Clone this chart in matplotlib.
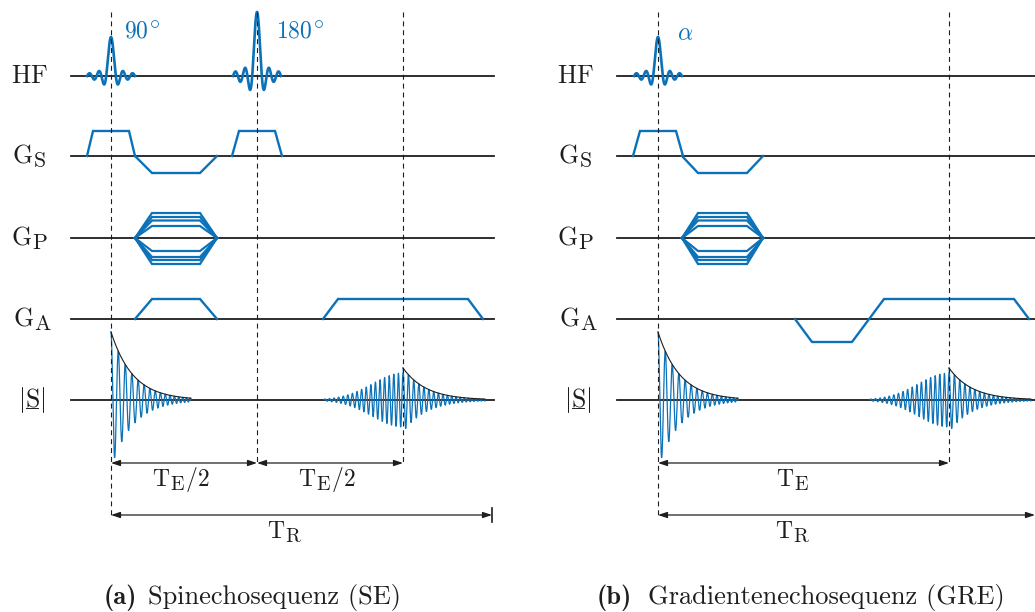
import numpy as np
import matplotlib
matplotlib.use('Agg')
import matplotlib.pyplot as plt
import matplotlib._mathtext as mt

plt.rcParams['mathtext.fontset'] = 'cm'
mt.SHRINK_FACTOR = 0.85  # bigger sub/superscripts, as in the LaTeX original

BLUE = '#0b72b9'
INK = '#1e1e1e'
FS = 17

# rows (HF, G_S, G_P, G_A, |S|)
row_y = [76, 156, 238, 319, 400]
row_labels = [r'$\mathrm{HF}$', r'$\mathrm{G_S}$', r'$\mathrm{G_P}$',
              r'$\mathrm{G_A}$', r'$|\mathrm{S}|$']
label_x = [29, 29, 30, 33, 32]

# ---- (a) spin echo ----
se_axis = (71, 494)
se_dashed = [(111, 518), (257, 463), (403, 463)]
se_pulses = [(111, 39), (257, 64)]
se_pulse_txt = [(124, 32, r'$90^{\!\circ}$'), (276, 32, r'$180^{\!\circ}$')]
# trapezoids: start, ramp, flat, amplitude
se_gs = [(87, 6, 36, 25), (135, 17, 48, -17), (232, 7, 36, 25)]
se_gp = (135, 17, 48)
se_ga = [(135, 17, 48, 20), (323, 15, 130, 20)]
se_fid = (111, 68)
se_echo = (403, 32, 27)
se_arrows = [(111, 257, 463), (257, 403, 463), (111, 492, 515)]
se_arrow_txt = [(181, r'$\mathrm{T_E/2}$'), (327, r'$\mathrm{T_E/2}$'),
                (285, r'$\mathrm{T_R}$')]

# ---- (b) gradient echo ----
gre_axis = (617, 1035)
gre_dashed = [(658, 518), (949, 463)]
gre_pulses = [(658, 39)]
gre_pulse_txt = [(677, 33, r'$\alpha$')]
gre_gs = [(633, 7, 36, 25), (682, 16, 49, -17)]
gre_gp = (682, 16, 49)
gre_ga_t = [795, 812, 852, 884, 1014, 1029]
gre_ga_a = [0, -23, -23, 20, 20, 0]
gre_fid = (658, 68)
gre_echo = (949, 32, 27)
gre_arrows = [(658, 949, 463), (658, 1035, 515)]
gre_arrow_txt = [(793, r'$\mathrm{T_E}$'), (793, r'$\mathrm{T_R}$')]

gp_amps = [25, 21, 17.5, 12, -13, -19, -22, -26]

# caption: bold tag ends at x, text starts at x2
captions = [(137, 148, '(a)', 'Spinechosequenz (SE)'),
            (632, 648, '(b)', 'Gradientenechosequenz (GRE)')]


def trap(ax, base, t0, ramp, flat, amp, lw=1.7):
    ts = [t0, t0 + ramp, t0 + ramp + flat, t0 + 2 * ramp + flat]
    ys = [base, base - amp, base - amp, base]
    ax.plot(ts, ys, color=BLUE, lw=lw, solid_joinstyle='miter', zorder=3)


def pulse(ax, xc, amp, base):
    t = np.linspace(-24, 24, 600)
    ax.plot(xc + t, base - amp * np.sinc(t / 4.8), color=BLUE, lw=1.9, zorder=3)


def decay(t, amp, tau, p0, p1):
    period = p0 + (p1 - p0) * t / t[-1]
    phase = 2 * np.pi * np.cumsum(np.gradient(t) / period)
    phase -= phase[0]
    env = amp * np.exp(-t / tau)
    return env * np.cos(phase), env


def signal(ax, base, t_fid, a_fid, t_echo, a_echo, a_rise, t_end):
    t = np.linspace(0, 80, 3000)
    s, env = decay(t, a_fid, 22, 7.5, 3.5)
    ax.plot(t_fid + t, base - s, color=BLUE, lw=0.9, zorder=2)
    ax.plot(t_fid + t, base - env, color=INK, lw=0.8, zorder=4)
    # echo: rising part
    tl = np.linspace(-79, 0, 3000)
    sl = a_rise * np.exp(-(tl / 43) ** 2) * np.cos(2 * np.pi * tl / 4.6)
    ax.plot(t_echo + tl, base - sl, color=BLUE, lw=0.9, zorder=2)
    tr = np.linspace(0, t_end - t_echo, 3000)
    sr, envr = decay(tr, a_echo, 23, 5.5, 3.5)
    ax.plot(t_echo + tr, base - sr, color=BLUE, lw=0.9, zorder=2)
    ax.plot(t_echo + tr, base - envr, color=INK, lw=0.8, zorder=4)


def arrow(ax, x0, x1, y):
    ax.annotate('', xy=(x1, y), xytext=(x0, y),
                arrowprops=dict(arrowstyle='<|-|>,head_length=0.45,head_width=0.15',
                                color=INK, lw=0.9, shrinkA=0, shrinkB=0,
                                mutation_scale=12))


fig = plt.figure(figsize=(10.35, 6.12), dpi=100)
ax = fig.add_axes([0, 0, 1, 1])
ax.set_xlim(0, 1035)
ax.set_ylim(612, 0)
ax.axis('off')

for shift, axis in [(0, se_axis), (546, gre_axis)]:
    for y, lab, lx in zip(row_y, row_labels, label_x):
        ax.plot(axis, [y, y], color=INK, lw=1.3, zorder=1)
        ax.text(lx + shift, y, lab, fontsize=18.5, color=INK, ha='center', va='center')
    # underline of S
    ax.plot([26 + shift, 38 + shift], [408, 408], color=INK, lw=0.7)

for panel in ['se', 'gre']:
    dashed = se_dashed if panel == 'se' else gre_dashed
    for x, yb in dashed:
        ax.plot([x, x], [12, yb], color=INK, lw=0.8, ls=(0, (4.5, 3.5)), zorder=5)
    pulses = se_pulses if panel == 'se' else gre_pulses
    for xc, amp in pulses:
        pulse(ax, xc, amp, row_y[0])
    ptxt = se_pulse_txt if panel == 'se' else gre_pulse_txt
    for x, y, s in ptxt:
        ax.text(x, y, s, fontsize=FS, color=BLUE, ha='left', va='center')
    gs = se_gs if panel == 'se' else gre_gs
    for t0, r, f, a in gs:
        trap(ax, row_y[1], t0, r, f, a)
    t0, r, f = se_gp if panel == 'se' else gre_gp
    for a in gp_amps:
        trap(ax, row_y[2], t0, r, f, a, lw=1.6)

for t0, r, f, a in se_ga:
    trap(ax, row_y[3], t0, r, f, a)
ax.plot(gre_ga_t, [row_y[3] - a for a in gre_ga_a], color=BLUE, lw=1.7, zorder=3)

signal(ax, row_y[4], se_fid[0], se_fid[1], se_echo[0], se_echo[1], se_echo[2], 485)
signal(ax, row_y[4], gre_fid[0], gre_fid[1], gre_echo[0], gre_echo[1], gre_echo[2], 1031)

for (x0, x1, y), (tx, s) in zip(se_arrows + gre_arrows, se_arrow_txt + gre_arrow_txt):
    arrow(ax, x0, x1, y)
    ax.text(tx, y + 17, s, fontsize=FS, color=INK, ha='center', va='center')
# end bar of T_R (a)
ax.plot([se_arrows[2][1]] * 2, [se_arrows[2][2] - 7, se_arrows[2][2] + 7], color=INK, lw=1.2)

for xb, xt, tag, txt in captions:
    ax.text(xb, 604, tag, fontsize=19, color=INK, ha='right', va='baseline',
            family='cmb10')
    ax.text(xt, 604, txt, fontsize=19, color=INK, ha='left', va='baseline',
            family='cmr10')

fig.savefig('out.png', dpi=100)
